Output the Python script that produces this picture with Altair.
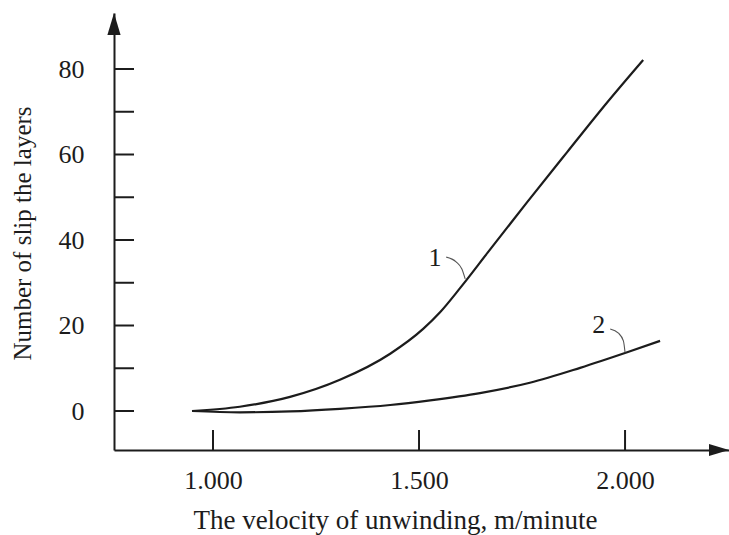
import altair as alt
import pandas as pd

# Data
curve1_x = [949, 1065, 1187, 1308, 1430, 1510, 1551, 1600, 1667, 1762, 1859, 1956, 2044]
curve1_y = [0.0, 1.0, 3.3, 7.3, 13.4, 19.2, 23.1, 28.8, 37.1, 48.8, 60.5, 72.1, 82.1]
curve2_x = [949, 1065, 1187, 1308, 1430, 1527, 1648, 1769, 1891, 2007, 2085]
curve2_y = [0.0, -0.3, -0.1, 0.5, 1.4, 2.5, 4.2, 6.6, 10.1, 13.8, 16.4]

# leader arcs for the curve labels
leader1_x = [1566, 1590, 1604, 1612]
leader1_y = [36.0, 34.9, 33.2, 30.9]
leader2_x = [1964, 1984, 1996, 2000]
leader2_y = [19.2, 18.2, 16.4, 13.7]

label_names = ["1", "2"]
label_x = [1539, 1936]
label_y = [35.8, 20.1]

x_ticks = [1000, 1500, 2000]
y_ticks = [0, 10, 20, 30, 40, 50, 60, 70, 80]
y_labels = [0, 20, 40, 60, 80]

X_DOMAIN = [759.7, 2252.3]
Y_DOMAIN = [-9.12, 93.1]
W, H = 615, 437
FONT = "Liberation Serif"
INK = "#1c1c1c"

xs = alt.Scale(domain=X_DOMAIN, nice=False, zero=False)
ys = alt.Scale(domain=Y_DOMAIN, nice=False, zero=False)

curves = pd.DataFrame({
    "x": curve1_x + curve2_x,
    "y": curve1_y + curve2_y,
    "curve": ["1"] * len(curve1_x) + ["2"] * len(curve2_x),
})
leaders = pd.DataFrame({
    "x": leader1_x + leader2_x,
    "y": leader1_y + leader2_y,
    "curve": ["1"] * len(leader1_x) + ["2"] * len(leader2_x),
})
labels = pd.DataFrame({"x": label_x, "y": label_y, "name": label_names})
xt = pd.DataFrame({"x": x_ticks})
yt = pd.DataFrame({"y": y_ticks})

x_axis = alt.Axis(
    values=x_ticks, ticks=False, tickSize=0, grid=False,
    labelExpr="format(datum.value/1000, '.3f')",
    labelFont=FONT, labelFontSize=26, labelColor=INK, labelPadding=17,
    domain=True, domainColor=INK, domainWidth=2,
    title="The velocity of unwinding, m/minute",
    titleFont=FONT, titleFontSize=27, titleFontWeight="normal", titleColor=INK,
    titleX=281, titleY=78, titleBaseline="alphabetic", titleAlign="center",
)
y_axis = alt.Axis(
    values=y_labels, ticks=False, tickSize=0, grid=False,
    labelFont=FONT, labelFontSize=26, labelColor=INK, labelPadding=30,
    domain=True, domainColor=INK, domainWidth=2,
    title="Number of slip the layers",
    titleFont=FONT, titleFontSize=25, titleFontWeight="normal", titleColor=INK,
    titleX=-84, titleY=220, titleBaseline="alphabetic", titleAlign="center", titleAngle=270,
)

lines = alt.Chart(curves).mark_line(
    color=INK, strokeWidth=2.2, interpolate="monotone"
).encode(
    x=alt.X("x:Q", scale=xs, axis=x_axis),
    y=alt.Y("y:Q", scale=ys, axis=y_axis),
    detail="curve:N",
)

leader_lines = alt.Chart(leaders).mark_line(
    color="#555555", strokeWidth=1.1, interpolate="monotone"
).encode(
    x=alt.X("x:Q", scale=xs),
    y=alt.Y("y:Q", scale=ys),
    detail="curve:N",
)

text = alt.Chart(labels).mark_text(
    font=FONT, fontSize=26, color=INK, align="center", baseline="middle"
).encode(
    x=alt.X("x:Q", scale=xs),
    y=alt.Y("y:Q", scale=ys),
    text="name:N",
)

xticks = alt.Chart(xt).mark_rule(color=INK, strokeWidth=2).encode(
    x=alt.X("x:Q", scale=xs),
    y=alt.value(H - 20),
    y2=alt.value(H),
)
yticks = alt.Chart(yt).mark_rule(color=INK, strokeWidth=2).encode(
    y=alt.Y("y:Q", scale=ys),
    x=alt.value(0),
    x2=alt.value(20),
)

arrow_y = alt.Chart(pd.DataFrame({"a": [0]})).mark_point(
    shape="M0,-1L0.6,1L-0.6,1Z", filled=True, fill=INK, stroke=None, opacity=1, size=484
).encode(x=alt.value(0), y=alt.value(11))
arrow_x = alt.Chart(pd.DataFrame({"a": [0]})).mark_point(
    shape="M1,0L-1,-0.6L-1,0.6Z", filled=True, fill=INK, stroke=None, opacity=1, size=400
).encode(x=alt.value(W - 10), y=alt.value(H))

chart = alt.layer(lines, leader_lines, text, xticks, yticks, arrow_y, arrow_x).properties(
    width=W, height=H,
    autosize=alt.AutoSizeParams(type="none"),
    padding={"left": 114, "top": 13, "right": 0, "bottom": 85},
    background="white",
).configure_view(stroke=None)

chart.save("out.html", embed_options={"renderer": "svg", "actions": False})
